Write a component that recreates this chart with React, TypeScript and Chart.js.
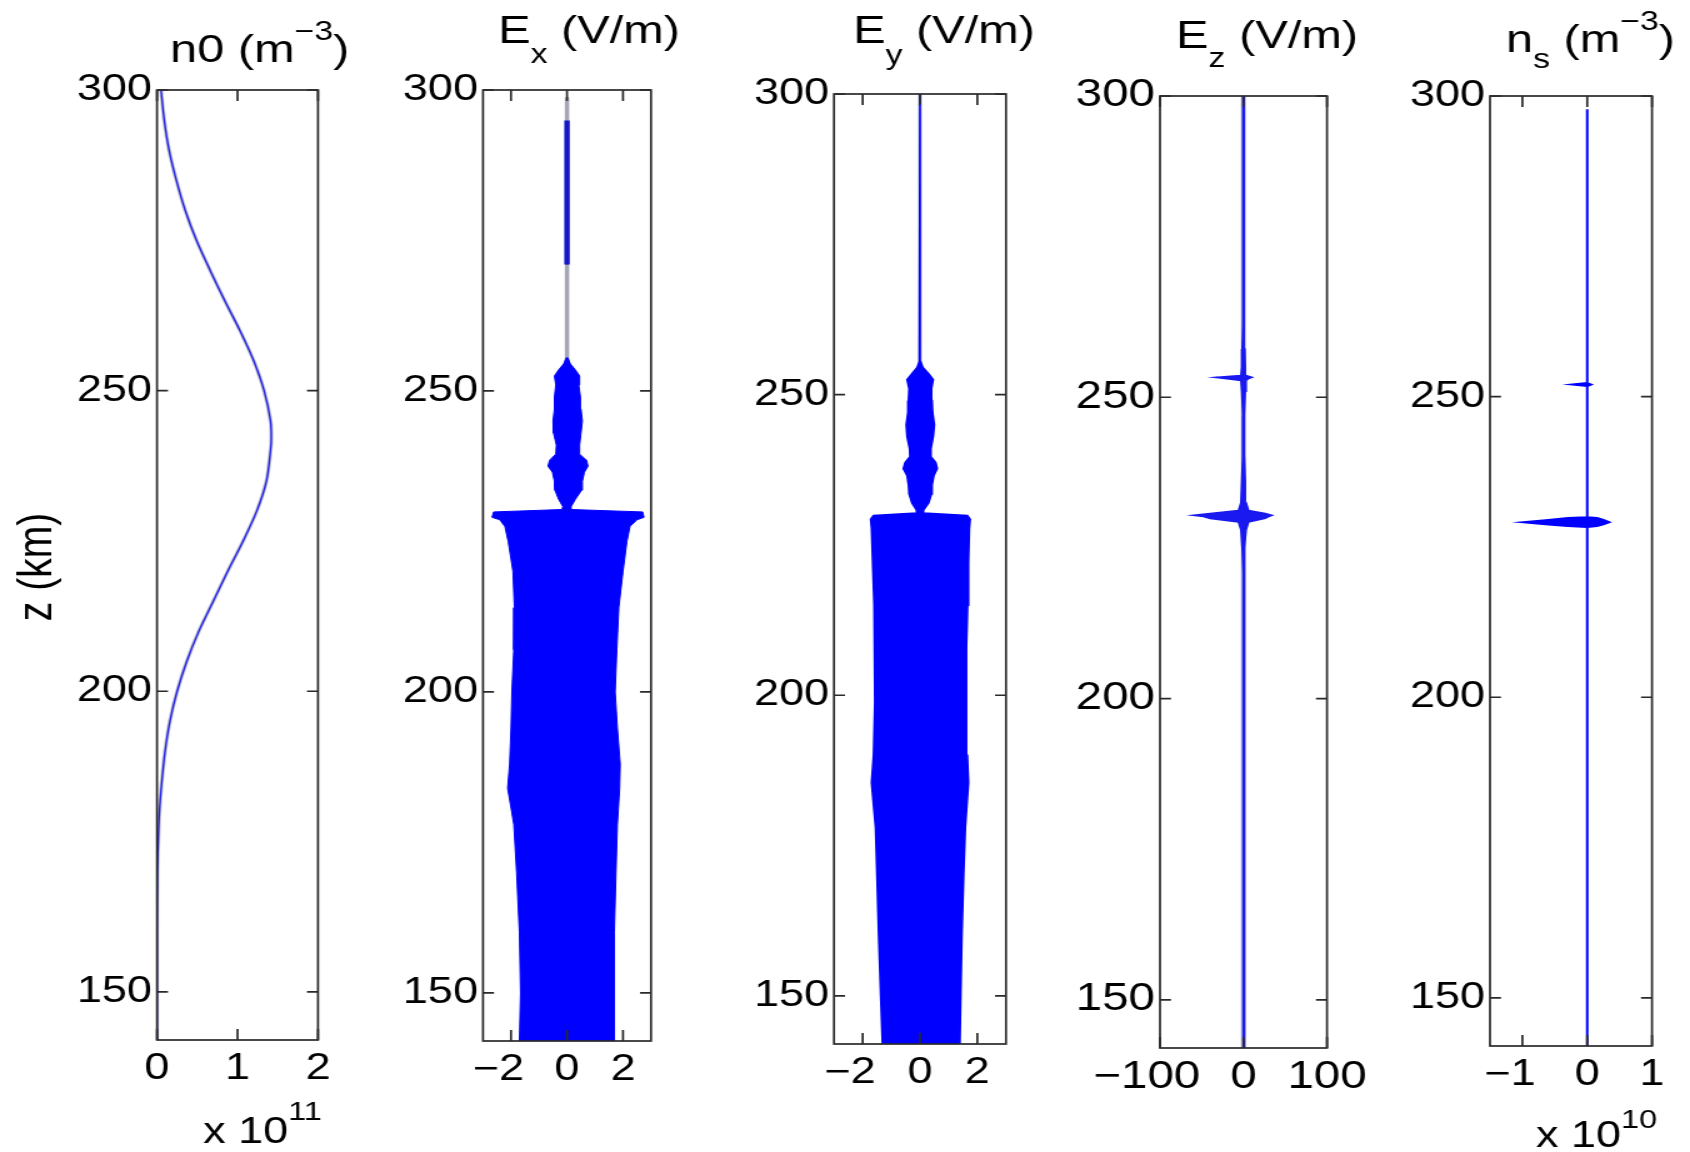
import React, { useEffect, useRef } from 'react';
import { Chart, registerables } from 'chart.js';

Chart.register(...registerables);

// ---------------- data ----------------
const Z_MIN = 142;
const Z_MAX = 300;
const zTicks = [150, 200, 250, 300];

// Panel 1: background density n0 (x 1e11 m^-3)
const n0Ticks = [0, 1, 2];
const n0Z = [300, 295, 290, 285, 280, 275, 270, 265, 260, 255, 250, 245, 242, 240, 235, 230, 225, 220, 215, 210, 205, 200, 195, 190, 185, 180, 175, 170, 160, 150, 142];
const n0Val = [0.05, 0.09, 0.15, 0.24, 0.35, 0.49, 0.66, 0.84, 1.03, 1.2, 1.33, 1.41, 1.42, 1.41, 1.36, 1.24, 1.07, 0.88, 0.7, 0.52, 0.37, 0.25, 0.16, 0.1, 0.06, 0.03, 0.015, 0.005, 0, 0, 0];

// Panel 2: Ex envelope (V/m)
const exTicks = [-2, 0, 2];
const exZ = [142, 150, 160, 170, 178, 184, 188, 194, 200, 207, 214, 220, 225, 227.5, 228.6, 229.0, 229.9, 230.3, 230.8, 232, 233.5, 235, 236.5, 237.5, 238.5, 239.5, 241, 243, 245, 247, 249, 251, 252.5, 253.5, 254.5, 255.5];
const exLeft = [-1.7, -1.66, -1.7, -1.8, -1.9, -2.12, -2.05, -2.0, -1.97, -1.9, -1.88, -1.93, -2.1, -2.22, -2.4, -2.68, -2.62, -0.18, -0.15, -0.3, -0.43, -0.45, -0.52, -0.68, -0.62, -0.4, -0.38, -0.48, -0.5, -0.45, -0.45, -0.4, -0.45, -0.3, -0.12, -0.03];
const exRight = [1.7, 1.68, 1.7, 1.75, 1.8, 1.88, 1.9, 1.8, 1.72, 1.78, 1.85, 2.0, 2.14, 2.25, 2.5, 2.75, 2.7, 0.15, 0.15, 0.3, 0.52, 0.55, 0.62, 0.75, 0.7, 0.45, 0.45, 0.5, 0.55, 0.5, 0.48, 0.42, 0.45, 0.3, 0.12, 0.03];
const exColZ = [271, 294.7];
const exColHalf = [0.03, 0.03];
const exTraceZ = [255, 298.8];

// Panel 3: Ey envelope (V/m)
const eyTicks = [-2, 0, 2];
const eyZ = [142, 150, 160, 170, 178, 185.5, 190, 199, 208, 215, 222, 227.7, 229.3, 229.9, 230.3, 230.8, 232, 233.5, 235, 236.5, 237.7, 238.7, 239.7, 241, 243, 245, 247, 249, 251, 252.5, 253.5, 254.5, 255.5, 300];
const eyLeft = [-1.31, -1.37, -1.44, -1.5, -1.55, -1.69, -1.62, -1.57, -1.58, -1.6, -1.65, -1.69, -1.72, -1.62, -0.12, -0.12, -0.28, -0.38, -0.4, -0.45, -0.58, -0.52, -0.35, -0.36, -0.45, -0.48, -0.42, -0.4, -0.38, -0.45, -0.28, -0.1, -0.02, 0];
const eyRight = [1.39, 1.42, 1.46, 1.52, 1.58, 1.69, 1.65, 1.62, 1.62, 1.66, 1.69, 1.72, 1.75, 1.65, 0.12, 0.12, 0.3, 0.4, 0.42, 0.48, 0.6, 0.55, 0.38, 0.38, 0.46, 0.5, 0.44, 0.42, 0.4, 0.46, 0.3, 0.1, 0.02, 0];

// Panel 4: Ez envelope (V/m)
const ezTicks = [-100, 0, 100];
const ezZ = [142, 221, 225, 228.0, 229.3, 229.9, 230.2, 230.4, 230.7, 231.2, 232.5, 236, 240, 247, 251, 252.8, 253.1, 253.3, 253.6, 255, 258, 262, 300];
const ezLeft = [-0.5, -0.5, -1.5, -3, -6, -40, -48, -60, -40, -6, -3, -2, -1, -0.8, -2, -3, -20, -33, -3, -2, -1.5, -0.8, -0.5];
const ezRight = [0.5, 0.5, 1.5, 3, 6, 26, 30, 34, 26, 6, 3, 2, 1, 0.8, 2, 3, 6, 10, 3, 2, 1.5, 0.8, 0.5];

// Panel 5: ns envelope (x 1e10 m^-3)
const nsTicks = [-1, 0, 1];
const nsZ = [142, 228.3, 228.5, 228.75, 229.1, 229.5, 229.8, 229.95, 251.75, 252.0, 252.25, 297.8];
const nsLeft = [0, 0, -0.3, -0.6, -0.99, -0.6, -0.3, 0, 0, -0.23, 0, 0];
const nsRight = [0, 0, 0.15, 0.25, 0.34, 0.25, 0.15, 0, 0, 0.06, 0, 0];

// ---------------- layout / style ----------------
const S = 1.25; // horizontal stretch of the original figure
const CW = Math.round(1690 / S);
const CH = 1152;
const YW = 80;
const XH = 70;
const TICK = 11;
const FONT = '"Liberation Sans", Arial, Helvetica, sans-serif';
const BLUE = 'rgb(0,0,255)';
const LINE_BLUE = 'rgb(35,35,230)';
const HALO = 'rgba(140,140,190,0.45)';

Chart.defaults.font.family = FONT;

const outline = (z: number[], lo: number[], hi: number[]) => [
  ...z.map((v, i) => ({ x: hi[i], y: v })),
  ...z.map((v, i) => ({ x: lo[i], y: v })).reverse(),
];
const curve = (z: number[], v: number[]) => z.map((zz, i) => ({ x: v[i], y: zz }));
const fmt = (v: number) => (v < 0 ? '\u2212' + Math.abs(v) + '\u2007' : String(v));

type Part = { t: string; size: number; dy?: number };
type RichText = { x: number; y: number; parts: Part[]; rotate?: boolean };

const poly = (data: any[], color: string, bw: number) => ({
  data,
  fill: 'shape',
  backgroundColor: color,
  borderColor: color,
  borderWidth: bw,
  pointRadius: 0,
  tension: 0,
});
const lineDs = (data: any[], color: string, bw: number, tension = 0) => ({
  data,
  fill: false,
  borderColor: color,
  backgroundColor: color,
  borderWidth: bw,
  pointRadius: 0,
  tension,
});

const panels = [
  {
    box: [157, 318, 90, 1040],
    xr: [0, 2],
    xTicks: n0Ticks,
    tickSize: 36,
    datasets: [
      lineDs(curve(n0Z, n0Val), LINE_BLUE, 1.4, 0.3),
      lineDs(curve(n0Z, n0Val), 'rgba(120,120,150,0.45)', 3.2, 0.3),
    ],
    texts: [
      { x: 170, y: 62, parts: [{ t: 'n0 (m', size: 39 }, { t: '\u22123', size: 27, dy: -22 }, { t: ')', size: 39 }] },
      { x: 203, y: 1143, parts: [{ t: 'x 10', size: 36 }, { t: '11', size: 26, dy: -23 }] },
      { x: 38, y: 567, rotate: true, parts: [{ t: 'z (km)', size: 39 }] },
    ] as RichText[],
  },
  {
    box: [483, 651, 90, 1041],
    xr: [-3, 3],
    xTicks: exTicks,
    tickSize: 36,
    datasets: [
      poly(outline(exZ, exLeft, exRight), BLUE, 1),
      poly(outline(exColZ, exColHalf.map((h) => -h), exColHalf), 'rgb(20,20,200)', 3),
      lineDs(curve(exTraceZ, exTraceZ.map(() => 0)), 'rgba(150,150,170,0.85)', 3.5),
    ],
    texts: [
      { x: 498, y: 43, parts: [{ t: 'E', size: 39 }, { t: 'x', size: 27, dy: 20 }, { t: ' (V/m)', size: 39 }] },
    ] as RichText[],
  },
  {
    box: [834, 1006, 94, 1044],
    xr: [-3, 3],
    xTicks: eyTicks,
    tickSize: 36,
    datasets: [
      poly(outline(eyZ, eyLeft, eyRight), BLUE, 1.6),
      lineDs(curve([eyZ[0], eyZ[eyZ.length - 1]], [0, 0]), HALO, 3.5),
    ],
    texts: [
      { x: 853, y: 43, parts: [{ t: 'E', size: 39 }, { t: 'y', size: 27, dy: 21 }, { t: ' (V/m)', size: 39 }] },
    ] as RichText[],
  },
  {
    box: [1160, 1327, 96, 1048],
    xr: [-100, 100],
    xTicks: ezTicks,
    tickSize: 38,
    datasets: [
      poly(outline(ezZ, ezLeft, ezRight), 'rgb(25,25,240)', 1.6),
      lineDs(curve([ezZ[0], ezZ[ezZ.length - 1]], [0, 0]), HALO, 4.5),
    ],
    texts: [
      { x: 1176, y: 48, parts: [{ t: 'E', size: 39 }, { t: 'z', size: 27, dy: 19 }, { t: ' (V/m)', size: 39 }] },
    ] as RichText[],
  },
  {
    box: [1490, 1652, 96, 1046],
    xr: [-1.5, 1],
    xTicks: nsTicks,
    tickSize: 36,
    datasets: [poly(outline(nsZ, nsLeft, nsRight), BLUE, 2)],
    texts: [
      {
        x: 1506,
        y: 52,
        parts: [
          { t: 'n', size: 39 },
          { t: 's', size: 27, dy: 16 },
          { t: ' (m', size: 39 },
          { t: '\u22123', size: 27, dy: -22 },
          { t: ')', size: 39 },
        ],
      },
      { x: 1536, y: 1147, parts: [{ t: 'x 10', size: 36 }, { t: '10', size: 26, dy: -19 }] },
    ] as RichText[],
  },
];

const boxPlugin = {
  id: 'matlabBox',
  afterDatasetsDraw(chart: any) {
    const { ctx, chartArea: a, scales } = chart;
    const xs = scales.x;
    const ys = scales.y;
    ctx.save();
    ctx.strokeStyle = '#2a2a2a';
    ctx.lineWidth = 1.7;
    ctx.beginPath();
    for (const t of xs.ticks) {
      const px = xs.getPixelForValue(t.value);
      ctx.moveTo(px, a.bottom);
      ctx.lineTo(px, a.bottom - TICK);
      ctx.moveTo(px, a.top);
      ctx.lineTo(px, a.top + TICK);
    }
    for (const t of ys.ticks) {
      const py = ys.getPixelForValue(t.value);
      ctx.moveTo(a.left, py);
      ctx.lineTo(a.left + TICK / S, py);
      ctx.moveTo(a.right, py);
      ctx.lineTo(a.right - TICK / S, py);
    }
    ctx.stroke();
    ctx.strokeRect(a.left, a.top, a.right - a.left, a.bottom - a.top);
    ctx.restore();
  },
};

const makeRichPlugin = (items: RichText[]) => ({
  id: 'richText',
  afterDraw(chart: any) {
    const ctx = chart.ctx;
    for (const item of items) {
      ctx.save();
      ctx.fillStyle = '#000';
      if (item.rotate) {
        const p = item.parts[0];
        ctx.translate(item.x / S, item.y);
        ctx.rotate(-Math.PI / 2);
        ctx.font = `${p.size}px ${FONT}`;
        ctx.textAlign = 'center';
        ctx.textBaseline = 'middle';
        ctx.fillText(p.t, 0, 0);
      } else {
        let x = item.x / S;
        ctx.textAlign = 'left';
        ctx.textBaseline = 'alphabetic';
        for (const p of item.parts) {
          ctx.font = `${p.size}px ${FONT}`;
          ctx.fillText(p.t, x, item.y + (p.dy || 0));
          x += ctx.measureText(p.t).width;
        }
      }
      ctx.restore();
    }
  },
});

function buildConfig(p: (typeof panels)[number]): any {
  const [L, R, T, B] = p.box;
  const tickFont = { size: p.tickSize, family: FONT };
  return {
    type: 'line',
    data: { datasets: p.datasets },
    options: {
      responsive: false,
      animation: false,
      devicePixelRatio: 1,
      events: [],
      layout: {
        padding: { left: L / S - YW, right: CW - R / S, top: T, bottom: CH - B - XH },
      },
      plugins: { legend: { display: false }, tooltip: { enabled: false }, title: { display: false } },
      scales: {
        x: {
          type: 'linear',
          position: 'bottom',
          min: p.xr[0],
          max: p.xr[1],
          grid: { display: false, drawTicks: false },
          border: { display: false },
          afterBuildTicks: (s: any) => {
            s.ticks = p.xTicks.map((v) => ({ value: v }));
          },
          afterFit: (s: any) => {
            s.height = XH;
          },
          ticks: { padding: 7, font: tickFont, color: '#000', maxRotation: 0, autoSkip: false, callback: (v: number) => fmt(v) },
        },
        y: {
          type: 'linear',
          position: 'left',
          min: Z_MIN,
          max: Z_MAX,
          grid: { display: false, drawTicks: false },
          border: { display: false },
          afterBuildTicks: (s: any) => {
            s.ticks = zTicks.map((v) => ({ value: v }));
          },
          afterFit: (s: any) => {
            s.width = YW;
          },
          ticks: { padding: 4, font: tickFont, color: '#000', autoSkip: false, callback: (v: number) => fmt(v) },
        },
      },
    },
    plugins: [boxPlugin, makeRichPlugin(p.texts)],
  };
}

export default function App() {
  const refs = useRef<(HTMLCanvasElement | null)[]>([]);
  useEffect(() => {
    const charts = panels.map((p, i) => new Chart(refs.current[i] as HTMLCanvasElement, buildConfig(p)));
    return () => charts.forEach((c) => c.destroy());
  }, []);
  return (
    <div style={{ position: 'absolute', left: 0, top: 0, width: 1690, height: CH, background: '#fff', overflow: 'hidden' }}>
      {panels.map((_, i) => (
        <canvas
          key={i}
          ref={(el) => {
            refs.current[i] = el;
          }}
          width={CW}
          height={CH}
          style={{ position: 'absolute', left: 0, top: 0, width: '1690px', height: `${CH}px` }}
        />
      ))}
    </div>
  );
}
